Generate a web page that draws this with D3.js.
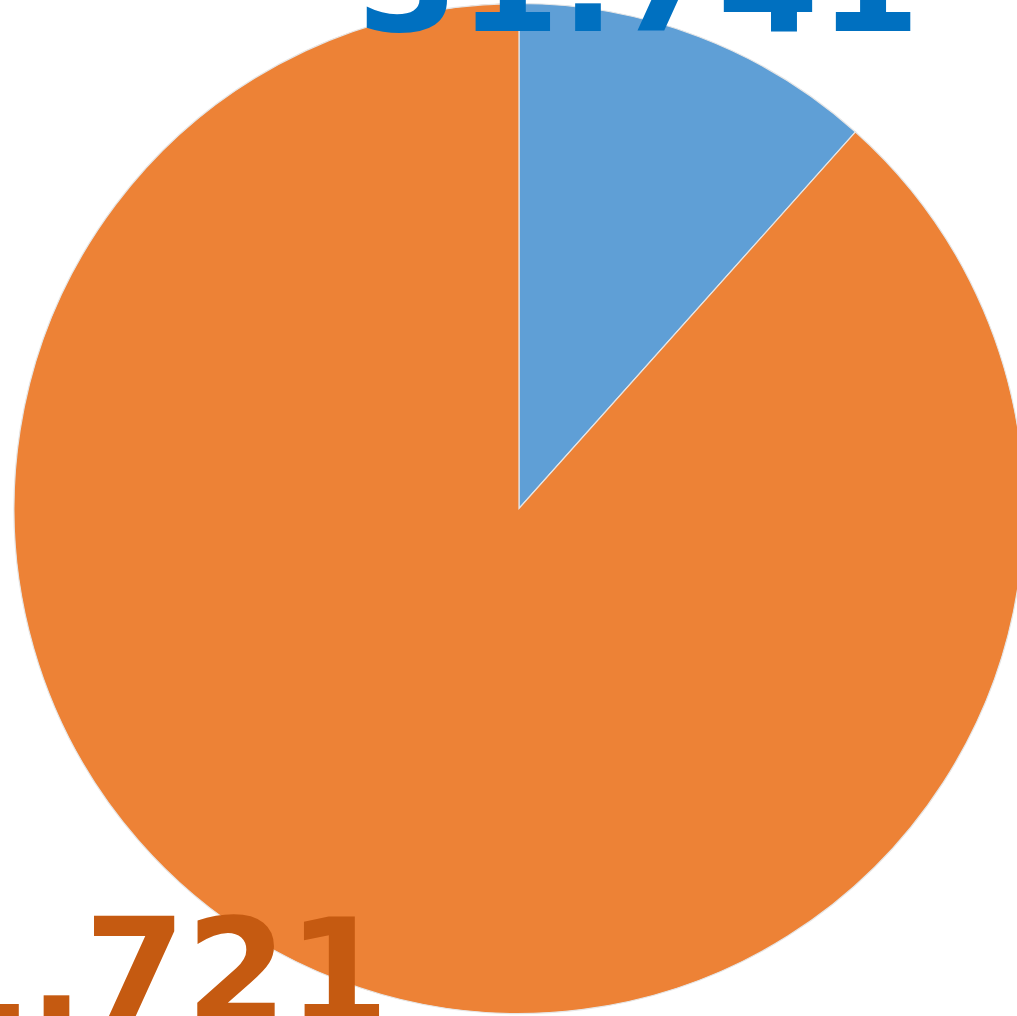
<!DOCTYPE html>
<html>
<head>
<meta charset="utf-8">
<script src="https://cdn.jsdelivr.net/npm/d3@7"></script>
<style>
  html, body { margin: 0; padding: 0; background: #ffffff; overflow: hidden; }
  svg { display: block; }
</style>
</head>
<body>
<svg id="chart" width="1017" height="1016"></svg>
<script>
// ---- data ----
const categories = ["Series A", "Series B"];
const values = [31.741, 241.721];
const labelTexts = ["31.741", "241.721"];
const sliceColors = ["#5f9fd6", "#ed8236"];
const labelColors = ["#0070c0", "#c55a11"];

// ---- layout ----
const W = 1017, H = 1016;
const cx = 519, cy = 508.5, R = 505;

const svg = d3.select("#chart");
const g = svg.append("g").attr("transform", `translate(${cx},${cy})`);

const pie = d3.pie().sort(null).value(d => d.value).startAngle(0).endAngle(2 * Math.PI);
const data = categories.map((c, i) => ({ category: c, value: values[i], i }));
const arcs = pie(data);

const arc = d3.arc().innerRadius(0).outerRadius(R);

g.selectAll("path.slice")
  .data(arcs)
  .join("path")
  .attr("class", "slice")
  .attr("d", arc)
  .attr("fill", d => sliceColors[d.data.i])
  .attr("stroke", "#e6e6e6")
  .attr("stroke-width", 1.2);

// data labels (positioned as in the cropped reference)
const labelPos = [
  { x: 357, y: 31, anchor: "start" },
  { x: 389, y: 1023, anchor: "end" }
];

svg.selectAll("text.lbl")
  .data(arcs)
  .join("text")
  .attr("class", "lbl")
  .attr("x", d => labelPos[d.data.i].x)
  .attr("y", d => labelPos[d.data.i].y)
  .attr("text-anchor", d => labelPos[d.data.i].anchor)
  .attr("font-family", "DejaVu Sans")
  .attr("font-weight", "bold")
  .attr("font-size", 146)
  .attr("fill", d => labelColors[d.data.i])
  .text(d => labelTexts[d.data.i]);
</script>
</body>
</html>
